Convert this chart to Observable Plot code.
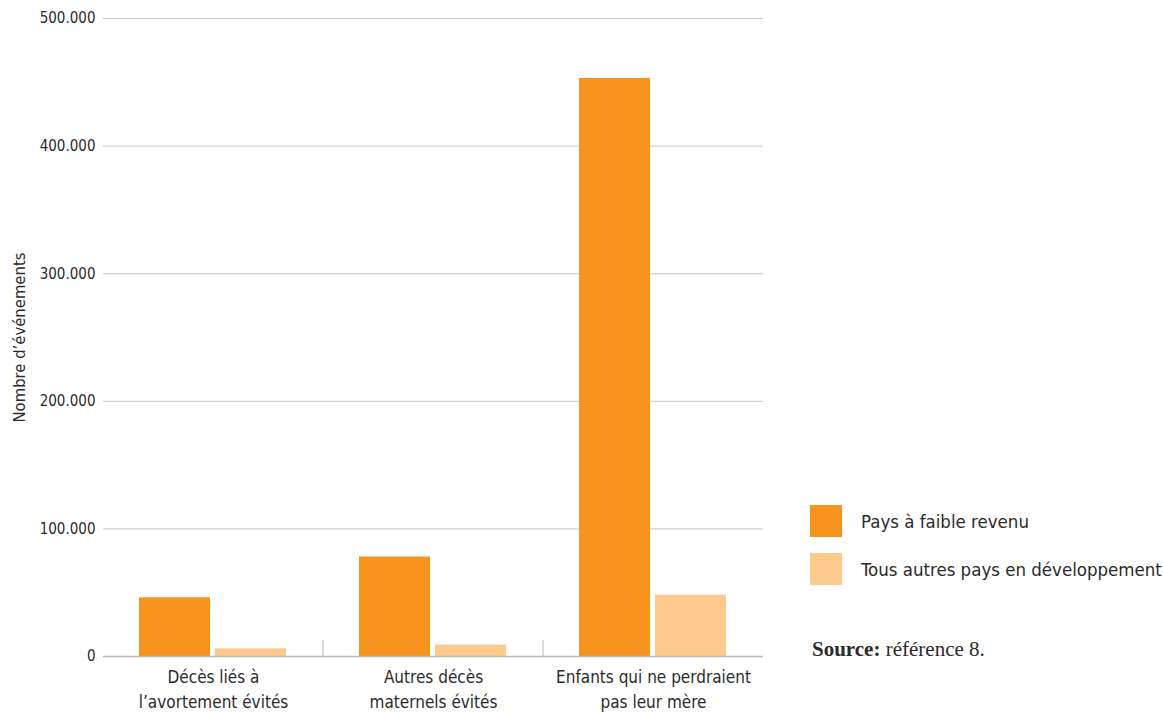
<!DOCTYPE html>
<html>
<head>
<meta charset="utf-8">
<script src="https://cdn.jsdelivr.net/npm/d3@7"></script>
<script src="https://cdn.jsdelivr.net/npm/@observablehq/plot@0.6"></script>
<style>
  html, body { margin: 0; padding: 0; background: #fff; }
  #wrap { position: relative; width: 1163px; height: 712px; font-family: "Liberation Sans Narrow", "DejaVu Sans Condensed", "Roboto", sans-serif; color: #2b2b2b; }
  .legend { position: absolute; left: 810px; }
  .legend .item { display: flex; align-items: center; height: 32px; margin-bottom: 16px; font-size: 18.5px; white-space: nowrap; }
  .legend .sw { width: 32px; height: 32px; margin-right: 19px; flex: none; }
  .source { position: absolute; left: 812px; top: 637px; font-family: "Liberation Serif", "DejaVu Serif", serif; font-size: 21px; color: #2b2b2b; white-space: nowrap; }
</style>
</head>
<body>
<div id="wrap"></div>
<script>
const categories = ["Décès liés à\nl’avortement évités", "Autres décès\nmaternels évités", "Enfants qui ne perdraient\npas leur mère"];
const series = ["Pays à faible revenu", "Tous autres pays en développement"];
const lowIncome = [46000, 78000, 453000];
const otherDeveloping = [6000, 9000, 48000];
const yTicks = [0, 100000, 200000, 300000, 400000, 500000];
const colors = ["#F7941D", "#FDC98C"];
const yLabel = "Nombre d’événements";
const sourceText = "référence 8.";

const data = [];
categories.forEach((c, i) => {
  data.push({cat: c, series: series[0], value: lowIncome[i]});
  data.push({cat: c, series: series[1], value: otherDeveloping[i]});
});

const loc = d3.formatLocale({decimal: ",", thousands: ".", grouping: [3], currency: ["", ""]});
const fmt = loc.format(",.0f");
const font = "'Liberation Sans Narrow', 'DejaVu Sans Condensed', Roboto, sans-serif";

const chart = Plot.plot({
  width: 1163,
  height: 712,
  marginLeft: 102,
  marginRight: 400,
  marginTop: 18,
  marginBottom: 56,
  style: {fontFamily: font, fontSize: "15px", color: "#2b2b2b", background: "white", overflow: "visible"},
  fx: {domain: categories, padding: 0, label: null, axis: null},
  x: {domain: series, paddingInner: 0.065, paddingOuter: 0.463, axis: null},
  y: {domain: [0, 500000], axis: null},
  color: {domain: series, range: colors},
  marks: [
    Plot.ruleY(yTicks.filter(d => d > 0), {stroke: "#c4c4c4", strokeWidth: 1}),
    Plot.barY(data, {fx: "cat", x: "series", y: "value", fill: "series"}),
    Plot.ruleY([0], {stroke: "#b8b8b8", strokeWidth: 1.5}),
    Plot.axisY({ticks: yTicks, tickFormat: fmt, tickSize: 0, tickPadding: 8, fontSize: 15, label: null}),
    Plot.axisY({ticks: [], tickSize: 0, fontSize: 16.5, label: yLabel, labelAnchor: "center", labelOffset: 90, labelArrow: "none"}),
    Plot.axisFx({anchor: "bottom", tickSize: 0, tickPadding: 9, fontSize: 17, label: null, lineHeight: 1.45})
  ]
});

document.getElementById("wrap").appendChild(chart);

// separators between groups
const fx = chart.scale("fx");
const y = chart.scale("y");
const svg = d3.select(chart.tagName.toLowerCase() === "svg" ? chart : chart.querySelector("svg"));
const y0 = y.apply(0);
categories.slice(0, categories.length - 1).forEach(c => {
  const xx = fx.apply(c) + fx.bandwidth;
  svg.append("line")
    .attr("x1", xx).attr("x2", xx)
    .attr("y1", y0 - 16).attr("y2", y0)
    .attr("stroke", "#b8b8b8").attr("stroke-width", 1);
});

// legend
const leg = document.createElement("div");
leg.className = "legend";
leg.style.top = "505px";
series.forEach((s, i) => {
  const it = document.createElement("div");
  it.className = "item";
  const sw = document.createElement("div");
  sw.className = "sw";
  sw.style.background = colors[i];
  const t = document.createElement("span");
  t.textContent = s;
  it.appendChild(sw); it.appendChild(t);
  leg.appendChild(it);
});
document.getElementById("wrap").appendChild(leg);

const src = document.createElement("div");
src.className = "source";
src.innerHTML = "<b>Source:</b> " + sourceText;
document.getElementById("wrap").appendChild(src);
</script>
</body>
</html>
